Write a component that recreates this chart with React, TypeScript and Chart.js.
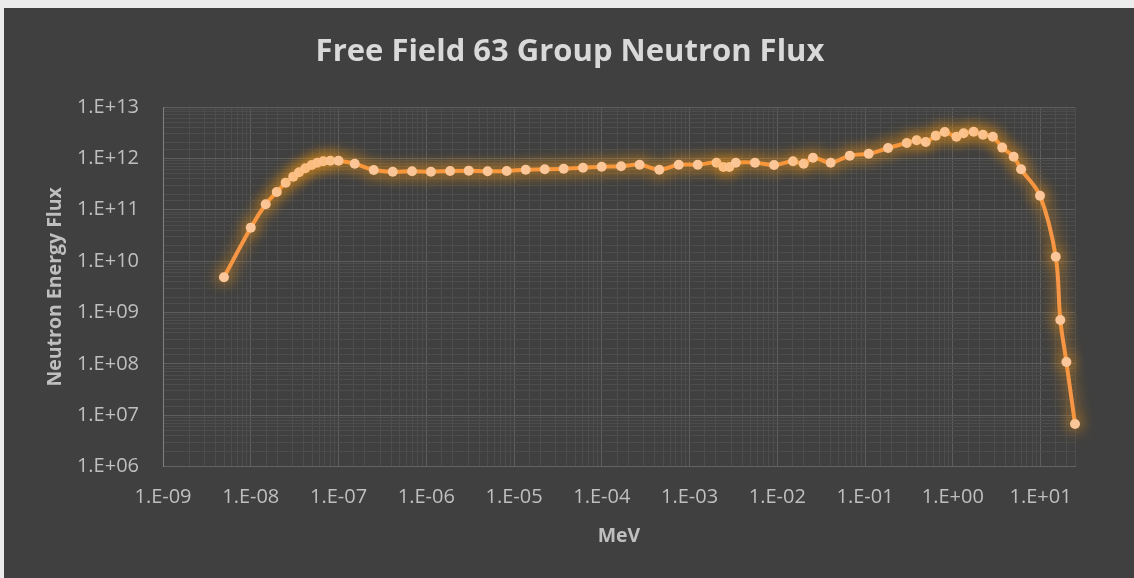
import React, { useEffect, useRef } from "react";
import { Chart, registerables } from "chart.js";

Chart.register(...registerables);

const chartTitle = "Free Field 63 Group Neutron Flux";
const xAxisTitle = "MeV";
const yAxisTitle = "Neutron Energy Flux";

// Group energies (MeV)
const energies = [
  4.95e-9, 1.0e-8, 1.48e-8, 1.98e-8, 2.5e-8, 3.05e-8, 3.55e-8, 4.19e-8, 4.95e-8, 5.73e-8,
  6.71e-8, 8.07e-8, 1.0e-7, 1.53e-7, 2.52e-7, 4.15e-7, 6.89e-7, 1.13e-6, 1.87e-6, 3.05e-6,
  5.0e-6, 8.26e-6, 1.36e-5, 2.24e-5, 3.68e-5, 6.11e-5, 9.97e-5, 1.66e-4, 2.7e-4, 4.53e-4,
  7.53e-4, 1.24e-3, 2.03e-3, 2.43e-3, 2.84e-3, 3.37e-3, 5.57e-3, 9.19e-3, 1.51e-2, 2.0e-2,
  2.55e-2, 4.06e-2, 6.7e-2, 0.11, 0.183, 0.299, 0.388, 0.492, 0.64, 0.811,
  1.1, 1.33, 1.73, 2.21, 2.86, 3.66, 4.94, 6.0, 9.86, 14.9,
  16.8, 19.7, 24.7,
];

// Neutron energy flux per group
const flux = [
  4.86e9, 4.49e10, 1.28e11, 2.22e11, 3.37e11, 4.41e11, 5.37e11, 6.42e11, 7.44e11, 8.25e11,
  8.79e11, 9.02e11, 9.02e11, 7.88e11, 5.95e11, 5.51e11, 5.61e11, 5.51e11, 5.69e11, 5.77e11,
  5.61e11, 5.69e11, 6.03e11, 6.14e11, 6.31e11, 6.59e11, 6.9e11, 7.02e11, 7.54e11, 6.03e11,
  7.54e11, 7.54e11, 8.25e11, 6.8e11, 6.8e11, 8.2e11, 8.25e11, 7.44e11, 8.79e11, 7.88e11,
  1.03e12, 8.25e11, 1.13e12, 1.23e12, 1.59e12, 2.0e12, 2.25e12, 2.08e12, 2.77e12, 3.26e12,
  2.64e12, 3.08e12, 3.29e12, 2.89e12, 2.64e12, 1.62e12, 1.08e12, 6.14e11, 1.88e11, 1.22e10,
  7.18e8, 1.09e8, 6.8e6,
];

const xMin = 1e-9;
const xMax = 24.7;
const yMin = 1e6;
const yMax = 1e13;

const isDecade = (v: number) => {
  const l = Math.log10(v);
  return Math.abs(l - Math.round(l)) < 1e-9;
};

const fmt = (v: number) => {
  const e = Math.round(Math.log10(v));
  return "1.E" + (e < 0 ? "-" : "+") + String(Math.abs(e)).padStart(2, "0");
};

const FONT = '"Open Sans", "DejaVu Sans", sans-serif';

export default function App() {
  const ref = useRef<HTMLCanvasElement | null>(null);

  useEffect(() => {
    document.body.style.background = "#ececec";
    const canvas = ref.current;
    if (!canvas) return;

    const glowPlugin = {
      id: "glow",
      beforeDatasetDraw(chart: any) {
        const c = chart.ctx;
        c.save();
        c.shadowColor = "rgba(255,155,20,1)";
        c.shadowBlur = 15;
      },
      afterDatasetDraw(chart: any) {
        chart.ctx.restore();
      },
    };

    const titlePlugin = {
      id: "mainTitle",
      afterDraw(chart: any) {
        const c = chart.ctx;
        c.save();
        c.font = "bold 31px " + FONT;
        c.fillStyle = "#d9d9d9";
        c.textAlign = "center";
        c.textBaseline = "middle";
        c.fillText(chartTitle, chart.width / 2 + 1, 44);
        c.restore();
      },
    };

    const gridColor = (ctx: any) =>
      ctx.tick && isDecade(ctx.tick.value) ? "#5e5e5e" : "#4d4d4d";

    const chart = new Chart(canvas, {
      type: "line",
      data: {
        datasets: [
          {
            label: "Flux",
            data: energies.map((e, i) => ({ x: e, y: flux[i] })),
            borderColor: "#f79646",
            borderWidth: 4,
            backgroundColor: "#fbc699",
            pointBackgroundColor: "#fbc699",
            pointBorderColor: "#fbc699",
            pointBorderWidth: 0,
            pointRadius: 5,
            tension: 0.35,
            fill: false,
            clip: false as any,
          },
        ],
      },
      options: {
        animation: false,
        responsive: false,
        devicePixelRatio: 1,
        layout: { padding: { left: 0, right: 59, top: 99, bottom: 0 } },
        plugins: {
          legend: { display: false },
          title: { display: false },
          tooltip: { enabled: false },
        },
        scales: {
          x: {
            type: "logarithmic",
            min: xMin,
            max: xMax,
            afterFit: (s: any) => {
              s.height = 111.3;
            },
            border: { color: "#636363", width: 1 },
            grid: { drawTicks: false, color: gridColor, lineWidth: 1 },
            ticks: {
              autoSkip: false,
              maxRotation: 0,
              minRotation: 0,
              padding: 18.3,
              color: "#bfbfbf",
              font: { family: FONT, size: 20 },
              callback: (v: any) => (isDecade(Number(v)) ? fmt(Number(v)) : ""),
            },
            title: {
              display: true,
              text: xAxisTitle,
              color: "#bfbfbf",
              font: { family: FONT, size: 19.5, weight: "bold" },
              padding: { top: 0, bottom: 30.3 },
            },
          },
          y: {
            type: "logarithmic",
            min: yMin,
            max: yMax,
            afterFit: (s: any) => {
              s.width = 159;
            },
            border: { color: "#808080", width: 1 },
            grid: { drawTicks: false, color: gridColor, lineWidth: 1 },
            ticks: {
              autoSkip: false,
              padding: 24,
              color: "#bfbfbf",
              font: { family: FONT, size: 20 },
              callback: (v: any) => (isDecade(Number(v)) ? fmt(Number(v)) : ""),
            },
            title: {
              display: true,
              text: yAxisTitle,
              color: "#bfbfbf",
              font: { family: FONT, size: 19.5, weight: "bold" },
              padding: { top: 39.3, bottom: 0 },
            },
          },
        },
      } as any,
      plugins: [glowPlugin, titlePlugin],
    });

    return () => chart.destroy();
  }, []);

  return (
    <div
      style={{
        position: "fixed",
        left: 4,
        top: 8,
        width: 1130,
        height: 570,
        background: "#404040",
      }}
    >
      <canvas ref={ref} width={1130} height={570} style={{ width: 1130, height: 570, display: "block" }} />
    </div>
  );
}
